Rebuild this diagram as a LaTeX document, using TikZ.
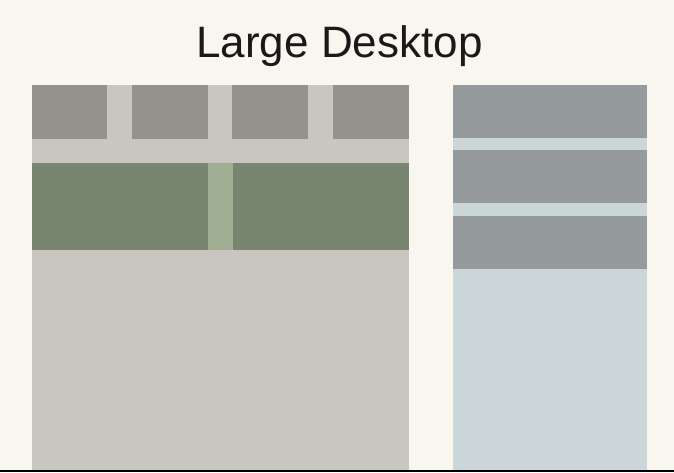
\documentclass[tikz,border=0pt]{standalone}
\usepackage{fontspec}
\setmainfont{Liberation Sans}
\definecolor{bg}{HTML}{F9F6F0}
\definecolor{panelgray}{HTML}{C9C5C1}
\definecolor{boxgray}{HTML}{95918D}
\definecolor{green}{HTML}{788570}
\definecolor{lightgreen}{HTML}{A0AE94}
\definecolor{sidedark}{HTML}{959A9D}
\definecolor{sidelight}{HTML}{CBD6D8}
\definecolor{baseline}{HTML}{3D3F45}
\begin{document}
\begin{tikzpicture}[x=1pt,y=-1pt]
\fill[bg] (0,0) rectangle (674,472);
\useasboundingbox (0,0) rectangle (674,472);
\node[font=\fontsize{44}{52}\selectfont, text=black!90, inner sep=0pt, anchor=base] (title) at (339.5,57) {Large Desktop};
% left panel
\fill[panelgray] (32,85) rectangle (409,470);
\fill[boxgray] (32,85) rectangle (107,138.5);
\fill[boxgray] (132,85) rectangle (207.5,138.5);
\fill[boxgray] (232,85) rectangle (307.5,138.5);
\fill[boxgray] (333,85) rectangle (409,138.5);
\fill[green] (32,162.5) rectangle (409,249.5);
\fill[lightgreen] (208,162.5) rectangle (232.5,249.5);
% right panel
\fill[sidelight] (453,85) rectangle (646.7,470);
\fill[sidedark] (453,85) rectangle (646.7,138);
\fill[sidedark] (453,149.5) rectangle (646.7,203);
\fill[sidedark] (453,215.5) rectangle (646.7,268.5);
% base line
\fill[baseline] (0,470) rectangle (674,472);
\end{tikzpicture}
\end{document}
